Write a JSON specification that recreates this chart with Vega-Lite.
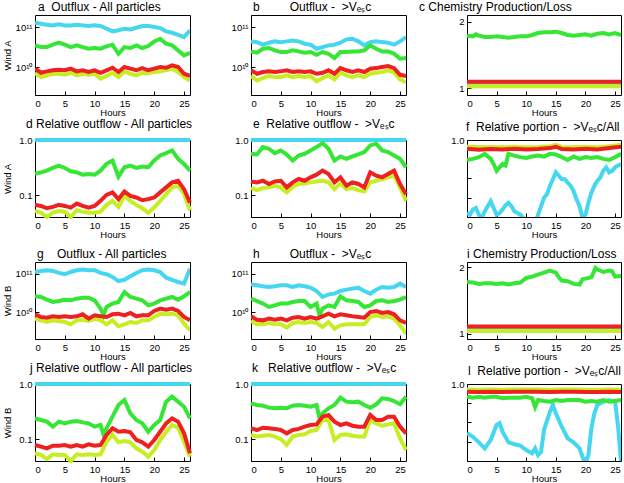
{
"$schema":"https://vega.github.io/schema/vega-lite/v6.json",
"background":"white",
"padding":{"left":1,"top":0,"right":0,"bottom":0},
"columns":3,
"bounds":"flush",
"spacing":{"row":45,"column":61},
"config":{
 "font":"Liberation Sans",
 "view":{"stroke":"black","strokeWidth":1},
 "axis":{"grid":false,"domain":false,"labelFont":"Liberation Sans","labelFontSize":9.5,"labelColor":"black","titleFont":"Liberation Sans","titleFontSize":9.5,"titleFontWeight":"normal","titleColor":"black","tickColor":"black","tickSize":-4,"labelPadding":7,"titlePadding":1},
 "axisX":{"labelPadding":7,"titlePadding":0},
 "title":{"font":"Liberation Sans","fontSize":12,"fontWeight":"normal","anchor":"start","frame":"group","offset":1,"color":"black"},
 "line":{"strokeWidth":4}
},
"datasets":{
"a":[
{"t":0,"c":1.28e11,"g":3.48e10,"r":9.1e9,"y":7.1e9},
{"t":1,"c":1.21e11,"g":3.16e10,"r":7.2e9,"y":5.6e9},
{"t":2,"c":1.14e11,"g":3.16e10,"r":7.8e9,"y":6.2e9},
{"t":3,"c":1.10e11,"g":3.62e10,"r":8.3e9,"y":6.8e9},
{"t":4,"c":1.17e11,"g":4.06e10,"r":8.6e9,"y":6.8e9},
{"t":5,"c":1.10e11,"g":3.62e10,"r":8.3e9,"y":6.4e9},
{"t":6,"c":1.10e11,"g":3.16e10,"r":9.1e9,"y":7.2e9},
{"t":7,"c":1.14e11,"g":3.48e10,"r":7.8e9,"y":6.2e9},
{"t":8,"c":1.10e11,"g":3.16e10,"r":8.3e9,"y":6.8e9},
{"t":9,"c":1.06e11,"g":2.87e10,"r":7.5e9,"y":6.4e9},
{"t":10,"c":1.10e11,"g":2.99e10,"r":8.3e9,"y":6.8e9},
{"t":11,"c":1.06e11,"g":2.87e10,"r":7.2e9,"y":5.1e9},
{"t":12,"c":9.1e10,"g":3.29e10,"r":8.3e9,"y":6.0e9},
{"t":13,"c":7.8e10,"g":3.62e10,"r":9.6e9,"y":7.2e9},
{"t":14,"c":8.3e10,"g":2.15e10,"r":7.5e9,"y":5.6e9},
{"t":15,"c":9.1e10,"g":3.16e10,"r":1.0e10,"y":7.8e9},
{"t":16,"c":8.7e10,"g":2.99e10,"r":9.1e9,"y":6.8e9},
{"t":17,"c":9.6e10,"g":3.48e10,"r":8.3e9,"y":6.2e9},
{"t":18,"c":1.06e11,"g":2.99e10,"r":9.4e9,"y":7.2e9},
{"t":19,"c":1.06e11,"g":3.35e10,"r":8.3e9,"y":7.1e9},
{"t":20,"c":1.0e11,"g":4.38e10,"r":9.1e9,"y":7.5e9},
{"t":21,"c":9.4e10,"g":5.1e10,"r":1.0e10,"y":7.8e9},
{"t":22,"c":7.8e10,"g":3.83e10,"r":9.6e9,"y":8.3e9},
{"t":23,"c":7.2e10,"g":3.48e10,"r":1.1e10,"y":9.1e9},
{"t":24,"c":6.4e10,"g":2.61e10,"r":1.0e10,"y":7.5e9},
{"t":25,"c":5.6e10,"g":1.96e10,"r":6.8e9,"y":5.6e9},
{"t":26,"c":8.3e10,"g":2.28e10,"r":6.0e9,"y":4.6e9}],
"b":[
{"t":0,"c":4.38e10,"g":2.46e10,"r":8.3e9,"y":6.0e9},
{"t":1,"c":4.2e10,"g":2.28e10,"r":6.8e9,"y":4.6e9},
{"t":2,"c":3.62e10,"g":2.87e10,"r":7.5e9,"y":5.3e9},
{"t":3,"c":4.06e10,"g":2.99e10,"r":7.8e9,"y":6.0e9},
{"t":4,"c":4.38e10,"g":2.61e10,"r":7.5e9,"y":5.6e9},
{"t":5,"c":4.2e10,"g":2.37e10,"r":7.8e9,"y":5.6e9},
{"t":6,"c":4.38e10,"g":2.37e10,"r":8.3e9,"y":6.2e9},
{"t":7,"c":4.6e10,"g":2.61e10,"r":7.5e9,"y":5.6e9},
{"t":8,"c":4.38e10,"g":2.46e10,"r":7.8e9,"y":6.0e9},
{"t":9,"c":3.83e10,"g":2.28e10,"r":7.5e9,"y":5.6e9},
{"t":10,"c":3.62e10,"g":2.37e10,"r":7.8e9,"y":6.0e9},
{"t":11,"c":2.87e10,"g":2.03e10,"r":6.8e9,"y":4.4e9},
{"t":12,"c":3.16e10,"g":2.37e10,"r":7.2e9,"y":5.3e9},
{"t":13,"c":3.48e10,"g":2.15e10,"r":8.3e9,"y":6.2e9},
{"t":14,"c":3.62e10,"g":1.68e10,"r":6.8e9,"y":4.9e9},
{"t":15,"c":4.06e10,"g":2.37e10,"r":9.4e9,"y":7.2e9},
{"t":16,"c":4.92e10,"g":2.37e10,"r":8.3e9,"y":6.2e9},
{"t":17,"c":5.1e10,"g":2.46e10,"r":7.5e9,"y":5.6e9},
{"t":18,"c":4.38e10,"g":2.46e10,"r":8.3e9,"y":6.2e9},
{"t":19,"c":3.48e10,"g":2.61e10,"r":7.5e9,"y":5.6e9},
{"t":20,"c":4.2e10,"g":3.48e10,"r":9.1e9,"y":6.8e9},
{"t":21,"c":4.38e10,"g":2.87e10,"r":9.4e9,"y":7.2e9},
{"t":22,"c":4.2e10,"g":2.46e10,"r":1.0e10,"y":7.5e9},
{"t":23,"c":4.06e10,"g":2.46e10,"r":1.06e10,"y":8.3e9},
{"t":24,"c":3.62e10,"g":2.15e10,"r":9.4e9,"y":7.2e9},
{"t":25,"c":4.38e10,"g":1.62e10,"r":6.4e9,"y":4.9e9},
{"t":26,"c":5.6e10,"g":1.68e10,"r":6.0e9,"y":4.2e9}],
"c":[
{"t":0,"c":1.065,"g":1.79,"r":1.10,"y":1.03},
{"t":1,"g":1.78},{"t":1.5,"g":1.81},{"t":2,"g":1.79},{"t":3,"g":1.77},{"t":4,"g":1.77},{"t":5,"g":1.78},{"t":6,"g":1.77},{"t":7,"g":1.76},{"t":8,"g":1.77},{"t":9,"g":1.78},{"t":10,"g":1.78},{"t":11,"g":1.80},{"t":12,"g":1.83},
{"t":13,"c":1.065,"g":1.84,"r":1.10,"y":1.03},
{"t":14,"g":1.84},{"t":15,"g":1.85},{"t":16,"g":1.83},{"t":17,"g":1.80},{"t":18,"g":1.79},{"t":19,"g":1.80},{"t":20,"g":1.81},{"t":21,"g":1.79},{"t":22,"g":1.82},{"t":23,"g":1.83},{"t":24,"g":1.81},{"t":25,"g":1.83},
{"t":26,"c":1.06,"g":1.80,"r":1.10,"y":1.03}],
"d":[
{"t":0,"c":1,"g":0.242,"r":0.0664,"y":0.0515},
{"t":1,"c":1,"g":0.259,"r":0.0636,"y":0.048},
{"t":2,"c":1,"g":0.278,"r":0.0576,"y":0.040},
{"t":3,"c":1,"g":0.311,"r":0.0610,"y":0.048},
{"t":4,"c":1,"g":0.343,"r":0.0664,"y":0.0515},
{"t":5,"c":1,"g":0.311,"r":0.0636,"y":0.050},
{"t":6,"c":1,"g":0.271,"r":0.0593,"y":0.040},
{"t":7,"c":1,"g":0.259,"r":0.0702,"y":0.053},
{"t":8,"c":1,"g":0.235,"r":0.0636,"y":0.050},
{"t":9,"c":1,"g":0.242,"r":0.0593,"y":0.048},
{"t":10,"c":1,"g":0.235,"r":0.0636,"y":0.048},
{"t":11,"c":1,"g":0.278,"r":0.0785,"y":0.050},
{"t":12,"c":1,"g":0.369,"r":0.101,"y":0.0664},
{"t":13,"c":1,"g":0.424,"r":0.112,"y":0.0785},
{"t":14,"c":1,"g":0.216,"r":0.0843,"y":0.0610},
{"t":15,"c":1,"g":0.320,"r":0.116,"y":0.097},
{"t":16,"c":1,"g":0.343,"r":0.097,"y":0.0785},
{"t":17,"c":1,"g":0.311,"r":0.0904,"y":0.0664},
{"t":18,"c":1,"g":0.330,"r":0.0807,"y":0.0576},
{"t":19,"c":1,"g":0.320,"r":0.0843,"y":0.048},
{"t":20,"c":1,"g":0.424,"r":0.0904,"y":0.0593},
{"t":21,"c":1,"g":0.524,"r":0.112,"y":0.0785},
{"t":22,"c":1,"g":0.578,"r":0.138,"y":0.104},
{"t":23,"c":1,"g":0.647,"r":0.170,"y":0.138},
{"t":24,"c":1,"g":0.455,"r":0.182,"y":0.148},
{"t":25,"c":1,"g":0.369,"r":0.128,"y":0.104},
{"t":26,"c":1,"g":0.278,"r":0.0731,"y":0.053}],
"e":[
{"t":0,"c":1,"g":0.562,"r":0.177,"y":0.134},
{"t":1,"c":1,"g":0.546,"r":0.170,"y":0.123},
{"t":2,"c":1,"g":0.744,"r":0.182,"y":0.134},
{"t":3,"c":1,"g":0.694,"r":0.159,"y":0.138},
{"t":4,"c":1,"g":0.578,"r":0.177,"y":0.148},
{"t":5,"c":1,"g":0.647,"r":0.182,"y":0.138},
{"t":6,"c":1,"g":0.546,"r":0.138,"y":0.112},
{"t":7,"c":1,"g":0.424,"r":0.170,"y":0.142},
{"t":8,"c":1,"g":0.524,"r":0.196,"y":0.159},
{"t":9,"c":1,"g":0.562,"r":0.182,"y":0.163},
{"t":10,"c":1,"g":0.647,"r":0.210,"y":0.170},
{"t":11,"c":1,"g":0.744,"r":0.235,"y":0.177},
{"t":12,"c":1,"g":0.881,"r":0.278,"y":0.182},
{"t":13,"c":1,"g":0.694,"r":0.242,"y":0.170},
{"t":14,"c":1,"g":0.424,"r":0.170,"y":0.128},
{"t":15,"c":1,"g":0.502,"r":0.210,"y":0.163},
{"t":16,"c":1,"g":0.455,"r":0.148,"y":0.128},
{"t":17,"c":1,"g":0.502,"r":0.170,"y":0.134},
{"t":18,"c":1,"g":0.546,"r":0.159,"y":0.123},
{"t":19,"c":1,"g":0.603,"r":0.138,"y":0.116},
{"t":20,"c":1,"g":0.798,"r":0.259,"y":0.170},
{"t":21,"c":1,"g":0.857,"r":0.225,"y":0.182},
{"t":22,"c":1,"g":0.647,"r":0.210,"y":0.196},
{"t":23,"c":1,"g":0.603,"r":0.242,"y":0.210},
{"t":24,"c":1,"g":0.524,"r":0.278,"y":0.225},
{"t":25,"c":1,"g":0.455,"r":0.159,"y":0.138},
{"t":26,"c":1,"g":0.320,"r":0.104,"y":0.0785}],
"f":[
{"t":0,"c":0.621,"g":0.896,"r":0.955,"y":0.966},
{"t":0.5,"c":0.612},{"t":1,"c":0.639,"g":0.902},{"t":1.5,"c":0.647},
{"t":2,"c":0.612,"g":0.911,"r":0.950,"y":0.962},
{"t":2.5,"c":0.595},{"t":3,"c":0.630,"g":0.928},{"t":3.5,"c":0.656},
{"t":4,"c":0.682,"g":0.902,"r":0.953,"y":0.964},
{"t":4.5,"c":0.647,"g":0.875},{"t":5,"c":0.612,"g":0.840},{"t":5.5,"c":0.621,"g":0.858},
{"t":6,"c":0.639,"g":0.875,"r":0.951,"y":0.962},
{"t":6.5,"c":0.661,"g":0.867},{"t":7,"c":0.674,"g":0.928},{"t":7.5,"c":0.656},
{"t":8,"c":0.630,"g":0.919,"r":0.954,"y":0.965},
{"t":8.5,"c":0.621},{"t":9,"c":0.612,"g":0.911},{"t":9.5,"c":0.595},
{"t":10,"c":0.560,"g":0.907,"r":0.951,"y":0.962},
{"t":11,"g":0.914},{"t":11.5,"c":0.560},
{"t":12,"c":0.612,"g":0.919,"r":0.953,"y":0.964},
{"t":13,"c":0.700,"g":0.914},{"t":13.5,"c":0.718},
{"t":14,"c":0.761,"g":0.928,"r":0.958,"y":0.968},
{"t":14.5,"c":0.796},{"t":15,"c":0.832,"g":0.925,"r":0.965,"y":0.975},{"t":15.5,"c":0.814},
{"t":16,"c":0.796,"g":0.911,"r":0.953,"y":0.964},
{"t":16.5,"c":0.796},{"t":17,"c":0.779,"g":0.896},{"t":17.5,"c":0.761},
{"t":18,"c":0.735,"g":0.914,"r":0.951,"y":0.962},
{"t":18.5,"c":0.691},{"t":19,"c":0.656,"g":0.902},{"t":19.5,"c":0.595},
{"t":20,"c":0.612,"g":0.911,"r":0.954,"y":0.965},
{"t":20.5,"c":0.674},{"t":21,"c":0.726,"g":0.907},{"t":21.5,"c":0.761},
{"t":22,"c":0.788,"g":0.911,"r":0.951,"y":0.962},
{"t":22.5,"c":0.805},{"t":23,"c":0.840,"g":0.902},{"t":23.5,"c":0.858},
{"t":24,"c":0.832,"g":0.896,"r":0.958,"y":0.968},
{"t":24.5,"c":0.840},{"t":25,"c":0.858,"g":0.911},{"t":25.5,"c":0.867},
{"t":26,"c":0.875,"g":0.928,"r":0.965,"y":0.975}],
"g":[
{"t":0,"c":1.10e11,"g":2.57e10,"r":8.75e9,"y":6.76e9},
{"t":1,"c":1.17e11,"g":2.47e10,"r":7.46e9,"y":6.1e9},
{"t":2,"c":1.22e11,"g":2.10e10,"r":7.17e9,"y":5.53e9},
{"t":3,"c":1.17e11,"g":1.83e10,"r":7.76e9,"y":6.1e9},
{"t":4,"c":1.04e11,"g":1.94e10,"r":7.46e9,"y":5.87e9},
{"t":5,"c":9.6e10,"g":2.10e10,"r":7.76e9,"y":5.53e9},
{"t":6,"c":1.10e11,"g":2.02e10,"r":7.46e9,"y":4.81e9},
{"t":7,"c":1.22e11,"g":2.23e10,"r":7.76e9,"y":6.1e9},
{"t":8,"c":1.27e11,"g":2.37e10,"r":8.75e9,"y":6.35e9},
{"t":9,"c":1.22e11,"g":2.37e10,"r":6.76e9,"y":5.87e9},
{"t":10,"c":1.22e11,"g":2.02e10,"r":8.24e9,"y":6.76e9},
{"t":11,"c":1.04e11,"g":1.23e10,"r":7.76e9,"y":6.1e9},
{"t":11.5,"g":8.2e9},
{"t":12,"c":9.6e10,"g":1.36e10,"r":7.46e9,"y":4.81e9},
{"t":13,"c":8.2e10,"g":1.66e10,"r":8.75e9,"y":6.1e9},
{"t":14,"c":6.4e10,"g":1.83e10,"r":9.1e9,"y":4.27e9},
{"t":15,"c":6.9e10,"g":3.33e10,"r":8.24e9,"y":4.81e9},
{"t":16,"c":8.5e10,"g":2.47e10,"r":9.5e9,"y":5.53e9},
{"t":17,"c":1.04e11,"g":2.23e10,"r":7.76e9,"y":5.21e9},
{"t":18,"c":1.22e11,"g":2.02e10,"r":8.24e9,"y":6.1e9},
{"t":19,"c":1.27e11,"g":1.50e10,"r":8.24e9,"y":6.1e9},
{"t":20,"c":1.22e11,"g":1.66e10,"r":1.07e10,"y":7.46e9},
{"t":21,"c":1.10e11,"g":2.02e10,"r":1.23e10,"y":9.1e9},
{"t":22,"c":7.8e10,"g":2.23e10,"r":1.16e10,"y":8.75e9},
{"t":23,"c":6.9e10,"g":2.47e10,"r":1.23e10,"y":9.1e9},
{"t":24,"c":6.05e10,"g":2.10e10,"r":1.07e10,"y":8.24e9},
{"t":25,"c":5.5e10,"g":2.57e10,"r":7.46e9,"y":5.01e9},
{"t":26,"c":1.34e11,"g":3.33e10,"r":6.1e9,"y":3.37e9}],
"h":[
{"t":0,"c":5.26e10,"g":2.23e10,"r":7.76e9,"y":5.87e9},
{"t":1,"c":4.96e10,"g":1.94e10,"r":6.35e9,"y":4.81e9},
{"t":2,"c":4.67e10,"g":1.66e10,"r":6.1e9,"y":4.81e9},
{"t":3,"c":4.49e10,"g":1.36e10,"r":6.76e9,"y":5.21e9},
{"t":4,"c":4.67e10,"g":1.50e10,"r":6.35e9,"y":4.81e9},
{"t":5,"c":4.96e10,"g":1.66e10,"r":6.76e9,"y":4.81e9},
{"t":6,"c":4.96e10,"g":1.66e10,"r":6.1e9,"y":3.95e9},
{"t":7,"c":4.49e10,"g":1.83e10,"r":7.17e9,"y":5.21e9},
{"t":8,"c":4.96e10,"g":1.94e10,"r":7.46e9,"y":5.53e9},
{"t":9,"c":4.67e10,"g":1.94e10,"r":6.76e9,"y":5.21e9},
{"t":10,"c":4.31e10,"g":1.36e10,"r":7.46e9,"y":5.53e9},
{"t":11,"c":3.53e10,"g":1.66e10,"r":6.76e9,"y":5.21e9},
{"t":11.5,"g":8.2e9},
{"t":12,"c":2.47e10,"g":1.23e10,"r":7.76e9,"y":4.1e9},
{"t":13,"c":2.89e10,"g":1.50e10,"r":9.1e9,"y":5.53e9},
{"t":14,"c":3.01e10,"g":1.36e10,"r":7.76e9,"y":3.72e9},
{"t":15,"c":3.53e10,"g":2.57e10,"r":8.75e9,"y":4.53e9},
{"t":16,"c":3.83e10,"g":2.02e10,"r":8.24e9,"y":4.81e9},
{"t":17,"c":4.07e10,"g":1.94e10,"r":7.76e9,"y":4.81e9},
{"t":18,"c":4.31e10,"g":1.83e10,"r":7.46e9,"y":4.81e9},
{"t":19,"c":3.53e10,"g":1.36e10,"r":7.17e9,"y":4.81e9},
{"t":20,"c":3.01e10,"g":1.50e10,"r":1.0e10,"y":7.46e9},
{"t":21,"c":3.83e10,"g":1.94e10,"r":1.07e10,"y":8.24e9},
{"t":22,"c":4.49e10,"g":2.02e10,"r":9.5e9,"y":7.46e9},
{"t":23,"c":4.31e10,"g":1.83e10,"r":1.0e10,"y":7.76e9},
{"t":24,"c":4.49e10,"g":1.94e10,"r":8.75e9,"y":6.76e9},
{"t":25,"c":5.48e10,"g":2.10e10,"r":6.1e9,"y":4.53e9},
{"t":26,"c":4.49e10,"g":2.47e10,"r":5.21e9,"y":2.75e9}],
"i":[
{"t":0,"c":1.07,"g":1.78,"r":1.11,"y":1.04},
{"t":1,"g":1.77},{"t":2,"g":1.75},{"t":3,"g":1.76},{"t":4,"g":1.76},{"t":5,"g":1.75},{"t":6,"g":1.76},{"t":7,"g":1.74},{"t":8,"g":1.76},{"t":9,"g":1.77},{"t":10,"g":1.84},{"t":11,"g":1.86},{"t":12,"g":1.89},
{"t":13,"c":1.07,"g":1.92,"r":1.11,"y":1.04},
{"t":14,"g":1.95},{"t":15,"g":1.92},{"t":15.5,"g":1.85},{"t":16,"g":1.80},{"t":17,"g":1.79},{"t":18,"g":1.75},{"t":19,"g":1.74},{"t":19.5,"g":1.82},{"t":20,"g":1.83},{"t":21,"g":1.85},{"t":21.7,"g":1.99},{"t":22,"g":1.97},{"t":23,"g":1.93},{"t":24,"g":1.95},{"t":24.5,"g":1.94},{"t":25,"g":1.86},
{"t":26,"c":1.07,"g":1.87,"r":1.11,"y":1.04}],
"j":[
{"t":0,"c":1,"g":0.238,"r":0.0782,"y":0.0552},
{"t":1,"c":1,"g":0.222,"r":0.0729,"y":0.0515},
{"t":2,"c":1,"g":0.207,"r":0.0680,"y":0.0435},
{"t":3,"c":1,"g":0.168,"r":0.0760,"y":0.0529},
{"t":4,"c":1,"g":0.207,"r":0.0760,"y":0.0515},
{"t":5,"c":1,"g":0.193,"r":0.0782,"y":0.0515},
{"t":6,"c":1,"g":0.207,"r":0.0729,"y":0.040},
{"t":7,"c":1,"g":0.213,"r":0.0782,"y":0.0529},
{"t":8,"c":1,"g":0.201,"r":0.0729,"y":0.0515},
{"t":9,"c":1,"g":0.193,"r":0.0804,"y":0.0529},
{"t":10,"c":1,"g":0.168,"r":0.0760,"y":0.0515},
{"t":11,"c":1,"g":0.180,"r":0.0782,"y":0.0529},
{"t":11.5,"g":0.119},
{"t":12,"c":1,"g":0.157,"r":0.119,"y":0.0898},
{"t":13,"c":1,"g":0.255,"r":0.157,"y":0.119},
{"t":14,"c":1,"g":0.416,"r":0.136,"y":0.0874},
{"t":15,"c":1,"g":0.513,"r":0.140,"y":0.0924},
{"t":16,"c":1,"g":0.294,"r":0.133,"y":0.0874},
{"t":17,"c":1,"g":0.222,"r":0.0964,"y":0.0680},
{"t":18,"c":1,"g":0.193,"r":0.0874,"y":0.0591},
{"t":19,"c":1,"g":0.136,"r":0.0729,"y":0.048},
{"t":20,"c":1,"g":0.180,"r":0.0964,"y":0.0634},
{"t":21,"c":1,"g":0.222,"r":0.136,"y":0.0964},
{"t":22,"c":1,"g":0.478,"r":0.193,"y":0.136},
{"t":23,"c":1,"g":0.589,"r":0.238,"y":0.180},
{"t":24,"c":1,"g":0.478,"r":0.207,"y":0.161},
{"t":25,"c":1,"g":0.388,"r":0.127,"y":0.0898},
{"t":26,"c":1,"g":0.238,"r":0.0552,"y":0.048}],
"k":[
{"t":0,"c":1,"g":0.446,"r":0.157,"y":0.119},
{"t":1,"c":1,"g":0.416,"r":0.146,"y":0.111},
{"t":2,"c":1,"g":0.404,"r":0.161,"y":0.115},
{"t":3,"c":1,"g":0.372,"r":0.157,"y":0.119},
{"t":4,"c":1,"g":0.362,"r":0.153,"y":0.111},
{"t":5,"c":1,"g":0.372,"r":0.146,"y":0.100},
{"t":6,"c":1,"g":0.362,"r":0.127,"y":0.0782},
{"t":7,"c":1,"g":0.404,"r":0.146,"y":0.111},
{"t":8,"c":1,"g":0.416,"r":0.153,"y":0.119},
{"t":9,"c":1,"g":0.404,"r":0.168,"y":0.122},
{"t":10,"c":1,"g":0.388,"r":0.180,"y":0.140},
{"t":11,"c":1,"g":0.416,"r":0.185,"y":0.146},
{"t":11.5,"g":0.238},
{"t":12,"c":1,"g":0.294,"r":0.255,"y":0.222},
{"t":13,"c":1,"g":0.362,"r":0.274,"y":0.222},
{"t":14,"c":1,"g":0.416,"r":0.207,"y":0.0964},
{"t":15,"c":1,"g":0.565,"r":0.180,"y":0.119},
{"t":16,"c":1,"g":0.478,"r":0.193,"y":0.122},
{"t":17,"c":1,"g":0.465,"r":0.175,"y":0.115},
{"t":18,"c":1,"g":0.478,"r":0.168,"y":0.111},
{"t":19,"c":1,"g":0.416,"r":0.168,"y":0.111},
{"t":20,"c":1,"g":0.372,"r":0.274,"y":0.222},
{"t":21,"c":1,"g":0.428,"r":0.222,"y":0.193},
{"t":22,"c":1,"g":0.549,"r":0.222,"y":0.175},
{"t":23,"c":1,"g":0.535,"r":0.255,"y":0.185},
{"t":24,"c":1,"g":0.491,"r":0.255,"y":0.193},
{"t":25,"c":1,"g":0.428,"r":0.168,"y":0.103},
{"t":26,"c":1,"g":0.589,"r":0.127,"y":0.0634}],
"l":[
{"t":0,"c":0.744,"g":0.934,"r":0.960,"y":0.972},
{"t":1,"c":0.726,"g":0.929},
{"t":2,"c":0.697,"g":0.934,"r":0.958,"y":0.970},
{"t":3,"c":0.666,"g":0.929},
{"t":4,"c":0.709,"g":0.934,"r":0.960,"y":0.972},
{"t":5,"c":0.787,"g":0.934},
{"t":5.5,"c":0.796},
{"t":6,"c":0.752,"g":0.926,"r":0.958,"y":0.970},
{"t":7,"c":0.697,"g":0.929},
{"t":8,"c":0.687,"g":0.929,"r":0.960,"y":0.972},
{"t":9,"c":0.680,"g":0.929},
{"t":10,"c":0.657,"g":0.934,"r":0.960,"y":0.972},
{"t":11,"c":0.640,"g":0.926},
{"t":11.5,"c":0.666,"g":0.88},
{"t":12,"c":0.631,"g":0.917,"r":0.960,"y":0.972},
{"t":12.5,"c":0.648},
{"t":13,"c":0.761,"g":0.912},
{"t":14,"c":0.856,"g":0.908,"r":0.958,"y":0.970},
{"t":14.5,"c":0.891},
{"t":15,"c":0.848,"g":0.917},
{"t":16,"c":0.778,"g":0.912,"r":0.960,"y":0.972},
{"t":17,"c":0.718,"g":0.917},
{"t":18,"c":0.697,"g":0.917,"r":0.960,"y":0.972},
{"t":19,"c":0.666,"g":0.917},
{"t":19.5,"c":0.622},
{"t":20,"c":0.585,"g":0.908,"r":0.958,"y":0.970},
{"t":20.5,"c":0.631},
{"t":21,"c":0.770,"g":0.912},
{"t":21.5,"c":0.848},
{"t":22,"c":0.891,"g":0.908,"r":0.958,"y":0.970},
{"t":23,"c":0.908,"g":0.917},
{"t":24,"c":0.917,"g":0.908,"r":0.960,"y":0.972},
{"t":25,"c":0.908,"g":0.912},
{"t":25.5,"c":0.780},
{"t":26,"c":0.600,"g":0.917,"r":0.958,"y":0.970}]
},
"concat":[
{"width":155,"height":80,"data":{"name":"a"},"title":{"text":"a\u00a0\u00a0Outflux - All particles","dx":3},
 "transform":[{"fold":["c","g","y","r"],"as":["s","v"]},{"filter":"isValid(datum.v)"}],
 "mark":{"type":"line","clip":true},
 "encoding":{"x":{"field":"t","type":"quantitative","scale":{"domain":[0,26],"nice":false,"zero":false},"axis":{"title":"Hours","values":[0,5,10,15,20,25]}},
  "y":{"field":"v","type":"quantitative","scale":{"type":"log","domain":[2e9,2e11],"nice":false},"axis":{"title":"Wind A","titleX":-23,"values":[1e10,1e11],"labelExpr":"datum.value > 5e10 ? '10\u00b9\u00b9' : '10\u00b9\u2070'"}},
  "color":{"field":"s","type":"nominal","scale":{"domain":["c","g","y","r"],"range":["#44d7ef","#35e635","#c6ee22","#ee2020"]},"legend":null}}},
{"width":155,"height":80,"data":{"name":"b"},"title":{"text":"b\u00a0\u00a0\u00a0\u00a0\u00a0\u00a0\u00a0\u00a0\u00a0Outflux - \u00a0>V\u2091\u209bc","dx":2},
 "transform":[{"fold":["c","g","y","r"],"as":["s","v"]},{"filter":"isValid(datum.v)"}],
 "mark":{"type":"line","clip":true},
 "encoding":{"x":{"field":"t","type":"quantitative","scale":{"domain":[0,26],"nice":false,"zero":false},"axis":{"title":"Hours","values":[0,5,10,15,20,25]}},
  "y":{"field":"v","type":"quantitative","scale":{"type":"log","domain":[2e9,2e11],"nice":false},"axis":{"title":null,"values":[1e10,1e11],"labelExpr":"datum.value > 5e10 ? '10\u00b9\u00b9' : '10\u00b9\u2070'"}},
  "color":{"field":"s","type":"nominal","scale":{"domain":["c","g","y","r"],"range":["#44d7ef","#35e635","#c6ee22","#ee2020"]},"legend":null}}},
{"width":154,"height":80,"data":{"name":"c"},"title":{"text":"c Chemistry Production/Loss","dx":-48},
 "transform":[{"fold":["c","g","y","r"],"as":["s","v"]},{"filter":"isValid(datum.v)"}],
 "mark":{"type":"line","clip":true},
 "encoding":{"x":{"field":"t","type":"quantitative","scale":{"domain":[0,26],"nice":false,"zero":false},"axis":{"title":"Hours","values":[0,5,10,15,20,25]}},
  "y":{"field":"v","type":"quantitative","scale":{"domain":[0.9,2.1],"nice":false,"zero":false},"axis":{"title":null,"values":[1,2],"format":"d"}},
  "color":{"field":"s","type":"nominal","scale":{"domain":["c","g","y","r"],"range":["#44d7ef","#35e635","#c6ee22","#ee2020"]},"legend":null}}},
{"width":155,"height":77,"data":{"name":"d"},"title":{"text":"d Relative outflow - All particles","dx":-9},
 "transform":[{"fold":["c","g","y","r"],"as":["s","v"]},{"filter":"isValid(datum.v)"}],
 "mark":{"type":"line","clip":false},
 "encoding":{"x":{"field":"t","type":"quantitative","scale":{"domain":[0,26],"nice":false,"zero":false},"axis":{"title":"Hours","values":[0,5,10,15,20,25]}},
  "y":{"field":"v","type":"quantitative","scale":{"type":"log","domain":[0.04,1],"nice":false},"axis":{"title":"Wind A","titleX":-23,"values":[0.1,1],"format":".1f"}},
  "color":{"field":"s","type":"nominal","scale":{"domain":["c","g","y","r"],"range":["#44d7ef","#35e635","#c6ee22","#ee2020"]},"legend":null}}},
{"width":155,"height":77,"data":{"name":"e"},"title":{"text":"e\u00a0\u00a0Relative outflow - \u00a0>V\u2091\u209bc","dx":2},
 "transform":[{"fold":["c","g","y","r"],"as":["s","v"]},{"filter":"isValid(datum.v)"}],
 "mark":{"type":"line","clip":false},
 "encoding":{"x":{"field":"t","type":"quantitative","scale":{"domain":[0,26],"nice":false,"zero":false},"axis":{"title":"Hours","values":[0,5,10,15,20,25]}},
  "y":{"field":"v","type":"quantitative","scale":{"type":"log","domain":[0.04,1],"nice":false},"axis":{"title":null,"values":[0.1,1],"format":".1f"}},
  "color":{"field":"s","type":"nominal","scale":{"domain":["c","g","y","r"],"range":["#44d7ef","#35e635","#c6ee22","#ee2020"]},"legend":null}}},
{"width":154,"height":77,"data":{"name":"f"},"title":{"text":"f\u00a0\u00a0Relative portion - \u00a0>V\u2091\u209bc/All","dx":-1},
 "transform":[{"fold":["c","g","y","r"],"as":["s","v"]},{"filter":"isValid(datum.v)"}],
 "mark":{"type":"line","clip":true},
 "encoding":{"x":{"field":"t","type":"quantitative","scale":{"domain":[0,26],"nice":false,"zero":false},"axis":{"title":"Hours","values":[0,5,10,15,20,25]}},
  "y":{"field":"v","type":"quantitative","scale":{"domain":[0.6,1],"nice":false,"zero":false},"axis":{"title":null,"values":[0.7,0.8,0.9,1],"labelExpr":"datum.value == 1 ? '1.0' : ''"}},
  "color":{"field":"s","type":"nominal","scale":{"domain":["c","g","y","r"],"range":["#44d7ef","#35e635","#c6ee22","#ee2020"]},"legend":null}}},
{"width":155,"height":77,"data":{"name":"g"},"title":{"text":"g\u00a0\u00a0\u00a0\u00a0Outflux - All particles","dx":2},
 "transform":[{"fold":["c","g","y","r"],"as":["s","v"]},{"filter":"isValid(datum.v)"}],
 "mark":{"type":"line","clip":true},
 "encoding":{"x":{"field":"t","type":"quantitative","scale":{"domain":[0,26],"nice":false,"zero":false},"axis":{"title":"Hours","values":[0,5,10,15,20,25]}},
  "y":{"field":"v","type":"quantitative","scale":{"type":"log","domain":[2e9,2e11],"nice":false},"axis":{"title":"Wind B","titleX":-23,"values":[1e10,1e11],"labelExpr":"datum.value > 5e10 ? '10\u00b9\u00b9' : '10\u00b9\u2070'"}},
  "color":{"field":"s","type":"nominal","scale":{"domain":["c","g","y","r"],"range":["#44d7ef","#35e635","#c6ee22","#ee2020"]},"legend":null}}},
{"width":155,"height":77,"data":{"name":"h"},"title":{"text":"h\u00a0\u00a0\u00a0\u00a0\u00a0\u00a0\u00a0\u00a0\u00a0Outflux - \u00a0>V\u2091\u209bc","dx":2},
 "transform":[{"fold":["c","g","y","r"],"as":["s","v"]},{"filter":"isValid(datum.v)"}],
 "mark":{"type":"line","clip":true},
 "encoding":{"x":{"field":"t","type":"quantitative","scale":{"domain":[0,26],"nice":false,"zero":false},"axis":{"title":"Hours","values":[0,5,10,15,20,25]}},
  "y":{"field":"v","type":"quantitative","scale":{"type":"log","domain":[2e9,2e11],"nice":false},"axis":{"title":null,"values":[1e10,1e11],"labelExpr":"datum.value > 5e10 ? '10\u00b9\u00b9' : '10\u00b9\u2070'"}},
  "color":{"field":"s","type":"nominal","scale":{"domain":["c","g","y","r"],"range":["#44d7ef","#35e635","#c6ee22","#ee2020"]},"legend":null}}},
{"width":154,"height":77,"data":{"name":"i"},"title":{"text":"i Chemistry Production/Loss","dx":0},
 "transform":[{"fold":["c","g","y","r"],"as":["s","v"]},{"filter":"isValid(datum.v)"}],
 "mark":{"type":"line","clip":true},
 "encoding":{"x":{"field":"t","type":"quantitative","scale":{"domain":[0,26],"nice":false,"zero":false},"axis":{"title":"Hours","values":[0,5,10,15,20,25]}},
  "y":{"field":"v","type":"quantitative","scale":{"domain":[0.92,2.08],"nice":false,"zero":false},"axis":{"title":null,"values":[1,2],"format":"d"}},
  "color":{"field":"s","type":"nominal","scale":{"domain":["c","g","y","r"],"range":["#44d7ef","#35e635","#c6ee22","#ee2020"]},"legend":null}}},
{"width":155,"height":77,"data":{"name":"j"},"title":{"text":"j Relative outflow - All particles","dx":-5},
 "transform":[{"fold":["c","g","y","r"],"as":["s","v"]},{"filter":"isValid(datum.v)"}],
 "mark":{"type":"line","clip":false},
 "encoding":{"x":{"field":"t","type":"quantitative","scale":{"domain":[0,26],"nice":false,"zero":false},"axis":{"title":"Hours","values":[0,5,10,15,20,25]}},
  "y":{"field":"v","type":"quantitative","scale":{"type":"log","domain":[0.04,1],"nice":false},"axis":{"title":"Wind B","titleX":-23,"values":[0.1,1],"format":".1f"}},
  "color":{"field":"s","type":"nominal","scale":{"domain":["c","g","y","r"],"range":["#44d7ef","#35e635","#c6ee22","#ee2020"]},"legend":null}}},
{"width":155,"height":77,"data":{"name":"k"},"title":{"text":"k\u00a0\u00a0\u00a0Relative outflow - \u00a0>V\u2091\u209bc","dx":1},
 "transform":[{"fold":["c","g","y","r"],"as":["s","v"]},{"filter":"isValid(datum.v)"}],
 "mark":{"type":"line","clip":false},
 "encoding":{"x":{"field":"t","type":"quantitative","scale":{"domain":[0,26],"nice":false,"zero":false},"axis":{"title":"Hours","values":[0,5,10,15,20,25]}},
  "y":{"field":"v","type":"quantitative","scale":{"type":"log","domain":[0.04,1],"nice":false},"axis":{"title":null,"values":[0.1,1],"format":".1f"}},
  "color":{"field":"s","type":"nominal","scale":{"domain":["c","g","y","r"],"range":["#44d7ef","#35e635","#c6ee22","#ee2020"]},"legend":null}}},
{"width":154,"height":77,"data":{"name":"l"},"title":{"text":"l\u00a0\u00a0Relative portion - \u00a0>V\u2091\u209bc/All","dx":1},
 "transform":[{"fold":["c","g","y","r"],"as":["s","v"]},{"filter":"isValid(datum.v)"}],
 "mark":{"type":"line","clip":true},
 "encoding":{"x":{"field":"t","type":"quantitative","scale":{"domain":[0,26],"nice":false,"zero":false},"axis":{"title":"Hours","values":[0,5,10,15,20,25]}},
  "y":{"field":"v","type":"quantitative","scale":{"domain":[0.6,1],"nice":false,"zero":false},"axis":{"title":null,"values":[0.7,0.8,0.9,1],"labelExpr":"datum.value == 1 ? '1.0' : ''"}},
  "color":{"field":"s","type":"nominal","scale":{"domain":["c","g","y","r"],"range":["#44d7ef","#35e635","#c6ee22","#ee2020"]},"legend":null}}}
]
}
